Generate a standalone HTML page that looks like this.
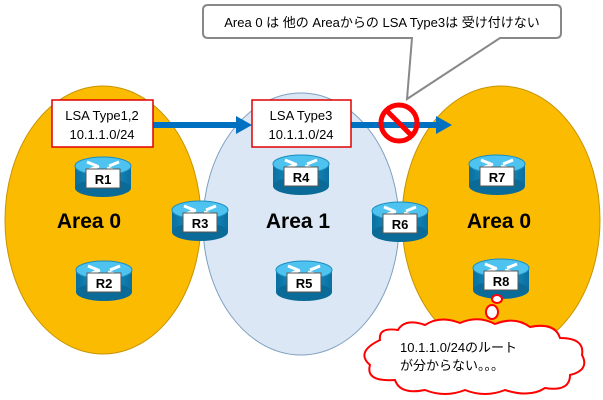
<!DOCTYPE html>
<html><head><meta charset="utf-8"><style>
body{margin:0;background:#fff;}
svg{display:block;font-family:"Liberation Sans","Noto Sans CJK JP",sans-serif;}
</style></head><body>
<svg width="603" height="400" viewBox="0 0 603 400" xmlns="http://www.w3.org/2000/svg">
<defs>
<linearGradient id="rb" x1="0" y1="0" x2="1" y2="0">
<stop offset="0" stop-color="#0a6fa0"/><stop offset="0.5" stop-color="#1a9fd0"/><stop offset="1" stop-color="#0a6fa0"/>
</linearGradient>
<g id="rt">
<rect x="-28" y="-10" width="56" height="22" fill="url(#rb)"/>
<ellipse cx="0" cy="12" rx="28" ry="9" fill="#0a6a98"/>
<ellipse cx="0" cy="-10" rx="28" ry="9" fill="#4fc3f0" stroke="#1a8ec0"/>
<path d="M-16,-14 L-6,-10 M-14,-6 L-4,-10 M6,-10 L16,-14 M4,-8 L14,-5" stroke="#fff" stroke-width="3"/>
</g>
</defs>
<ellipse cx="103" cy="220" rx="98" ry="134" fill="#fbbb00" stroke="#c89400"/>
<ellipse cx="501" cy="220" rx="99" ry="134" fill="#fbbb00" stroke="#c89400"/>
<ellipse cx="301" cy="224" rx="98" ry="131" fill="#dbe7f4" stroke="#7f9fbf"/>

<text x="89" y="228" font-size="21" font-weight="bold" text-anchor="middle">Area 0</text>
<text x="298" y="228" font-size="21" font-weight="bold" text-anchor="middle">Area 1</text>
<text x="499" y="228" font-size="21" font-weight="bold" text-anchor="middle">Area 0</text>

<g font-size="13" font-weight="bold" text-anchor="middle">
<g transform="translate(103,176)"><use href="#rt"/><rect x="-17" y="-7" width="34" height="19" fill="#fff" stroke="#555"/><text y="8">R1</text></g>
<g transform="translate(104,280)"><use href="#rt"/><rect x="-17" y="-7" width="34" height="19" fill="#fff" stroke="#555"/><text y="8">R2</text></g>
<g transform="translate(200,220)"><use href="#rt"/><rect x="-17" y="-7" width="34" height="19" fill="#fff" stroke="#555"/><text y="8">R3</text></g>
<g transform="translate(301,174)"><use href="#rt"/><rect x="-17" y="-7" width="34" height="19" fill="#fff" stroke="#555"/><text y="8">R4</text></g>
<g transform="translate(304,280)"><use href="#rt"/><rect x="-17" y="-7" width="34" height="19" fill="#fff" stroke="#555"/><text y="8">R5</text></g>
<g transform="translate(400,221)"><use href="#rt"/><rect x="-17" y="-7" width="34" height="19" fill="#fff" stroke="#555"/><text y="8">R6</text></g>
<g transform="translate(497,174)"><use href="#rt"/><rect x="-17" y="-7" width="34" height="19" fill="#fff" stroke="#555"/><text y="8">R7</text></g>
<g transform="translate(501,278)"><use href="#rt"/><rect x="-17" y="-7" width="34" height="19" fill="#fff" stroke="#555"/><text y="8">R8</text></g>
</g>

<rect x="153" y="122" width="86" height="6" fill="#0070c0"/>
<polygon points="236,116 252,125 236,134" fill="#0070c0"/>
<rect x="351" y="122" width="88" height="6" fill="#0070c0"/>
<polygon points="436,116 452,125 436,134" fill="#0070c0"/>

<rect x="52" y="100" width="101" height="47" fill="#fff" stroke="#e00000" stroke-width="1.5"/>
<text x="102" y="120" font-size="13" text-anchor="middle">LSA Type1,2</text>
<text x="102" y="139" font-size="13" text-anchor="middle">10.1.1.0/24</text>
<rect x="252" y="100" width="99" height="47" fill="#fff" stroke="#e00000" stroke-width="1.5"/>
<text x="301" y="120" font-size="13" text-anchor="middle">LSA Type3</text>
<text x="301" y="139" font-size="13" text-anchor="middle">10.1.1.0/24</text>

<circle cx="399" cy="123" r="18" fill="none" stroke="#ff0000" stroke-width="5"/>
<line x1="387" y1="111" x2="411" y2="135" stroke="#ff0000" stroke-width="5"/>

<path d="M208,5 H556 Q561,5 561,10 V33 Q561,38 556,38 H500 L407,99 L412,38 H208 Q203,38 203,33 V10 Q203,5 208,5 Z" fill="#fff" stroke="#888" stroke-width="2"/>
<text x="382" y="27" font-size="13" text-anchor="middle">Area 0 は 他の Areaからの LSA Type3は 受け付けない</text>

<ellipse cx="497" cy="299" rx="5" ry="4" fill="#fff" stroke="#ff0000" stroke-width="2"/>
<ellipse cx="492" cy="312" rx="6" ry="7" fill="#fff" stroke="#ff0000" stroke-width="2"/>
<path d="M380,340 Q378,327 398,330 Q405,318 425,325 Q440,315 460,323 Q478,315 495,324 Q515,316 530,327 Q555,322 560,338 Q585,338 582,355 Q590,370 570,375 Q570,392 545,388 Q530,398 505,390 Q485,398 465,390 Q445,398 425,390 Q400,395 395,380 Q365,382 370,365 Q355,352 380,340 Z" fill="#fff" stroke="#ff0000" stroke-width="2"/>
<text x="400" y="352" font-size="13">10.1.1.0/24のルート</text>
<text x="400" y="370" font-size="13">が分からない。。。</text>
</svg>
</body></html>
